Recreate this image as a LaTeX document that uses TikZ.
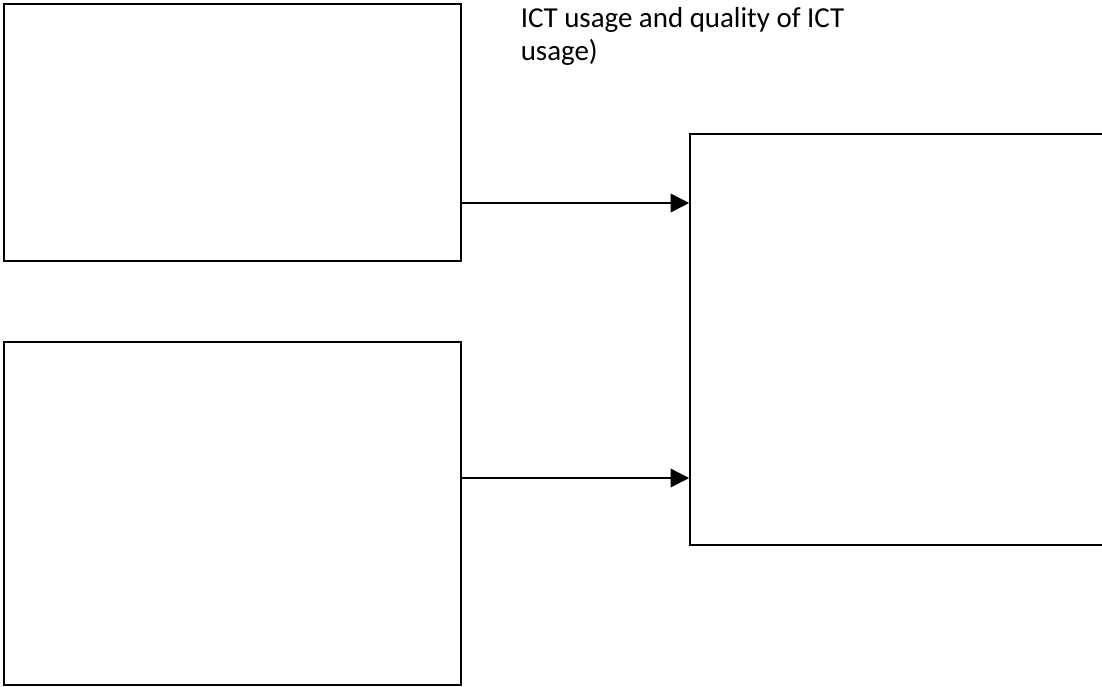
\documentclass[tikz,border=0pt]{standalone}
\usepackage{fontspec}
\setmainfont{Carlito}
\usetikzlibrary{arrows.meta}

\begin{document}
\begin{tikzpicture}[x=0.75pt,y=-0.75pt,line width=1.2pt,>={Triangle[length=14pt,width=14pt]}]
	\clip (0,0) rectangle (1102,686);
	\node (Top)   at (232.5,132.5)	[draw, rectangle, minimum width=342.75pt, minimum height=192.75pt]	{};
	\node (Bot)   at (232.5,513.5)	[draw, rectangle, minimum width=342.75pt, minimum height=257.25pt]	{};
	\node (Right) at (905,339.5)	[draw, rectangle, minimum width=322.5pt, minimum height=308.25pt]	{};
	\node (Note)  at (520,7)	[anchor=north west, inner sep=0pt, align=left, font=\fontsize{21.7}{24.2}\selectfont]	{ICT usage and quality of ICT\\usage)};
	\draw[->] (Top.east |- 0,203) -- (Right.west |- 0,203);
	\draw[->] (Bot.east |- 0,478) -- (Right.west |- 0,478);
\end{tikzpicture}
\end{document}
